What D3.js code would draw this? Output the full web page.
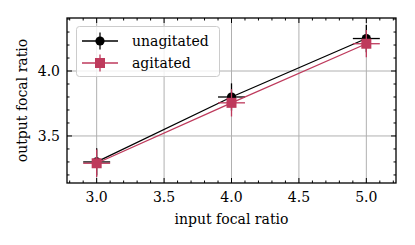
<!DOCTYPE html>
<html>
<head>
<meta charset="utf-8">
<script src="https://cdn.jsdelivr.net/npm/d3@7"></script>
<style>
  body { margin: 0; background: #fff; }
  svg text { font-family: "DejaVu Serif", serif; fill: #000; }
</style>
</head>
<body>
<svg id="chart" width="415" height="245"></svg>
<script>
"use strict";

// values
const inputRatio = [3.0, 4.0, 5.0];
const unagitated = [3.30, 3.80, 4.25];
const agitated = [3.29, 3.755, 4.21];
const xErr = [0.1, 0.1, 0.1];
const unagitatedErr = [0.105, 0.105, 0.105];
const agitatedErr = [0.105, 0.105, 0.105];
const xTicks = [3.0, 3.5, 4.0, 4.5, 5.0];
const yTicks = [3.5, 4.0];
const seriesNames = ['unagitated', 'agitated'];

(function () {
  const red = '#be3a5c';
  const fontSize = 14;
  let svg = d3.select('#chart');

  let left = 67, right = 396, top = 18, bottom = 183;

  let xScale = d3.scaleLinear().domain([2.78, 5.22]).range([left, right]);
  let yScale = d3.scaleLinear().domain([3.138, 4.408]).range([bottom, top]);

  // grid
  let grid = svg.append('g').attr('stroke', '#b0b0b0').attr('stroke-width', 1);
  grid.selectAll('line.gx').data(xTicks).enter().append('line')
    .attr('x1', d => xScale(d)).attr('x2', d => xScale(d))
    .attr('y1', top).attr('y2', bottom);
  grid.selectAll('line.gy').data(yTicks).enter().append('line')
    .attr('y1', d => yScale(d)).attr('y2', d => yScale(d))
    .attr('x1', left).attr('x2', right);

  // series
  let series = [
    { name: seriesNames[0], values: unagitated, err: unagitatedErr, color: '#000', marker: 'circle' },
    { name: seriesNames[1], values: agitated, err: agitatedErr, color: red, marker: 'square' }
  ];

  let line = d3.line()
    .x(d => xScale(d.x))
    .y(d => yScale(d.y));

  series.forEach(function (s) {
    let pts = inputRatio.map((x, i) => ({ x: x, y: s.values[i], xe: xErr[i], ye: s.err[i] }));
    let g = svg.append('g');
    g.append('path')
      .datum(pts)
      .attr('d', line)
      .attr('fill', 'none')
      .attr('stroke', s.color)
      .attr('stroke-width', 1.3);
    g.selectAll('line.xe').data(pts).enter().append('line')
      .attr('x1', d => xScale(d.x - d.xe)).attr('x2', d => xScale(d.x + d.xe))
      .attr('y1', d => yScale(d.y)).attr('y2', d => yScale(d.y))
      .attr('stroke', s.color).attr('stroke-width', 1.3);
    g.selectAll('line.ye').data(pts).enter().append('line')
      .attr('x1', d => xScale(d.x)).attr('x2', d => xScale(d.x))
      .attr('y1', d => yScale(d.y - d.ye)).attr('y2', d => yScale(d.y + d.ye))
      .attr('stroke', s.color).attr('stroke-width', 1.3);
    if (s.marker === 'circle') {
      g.selectAll('circle').data(pts).enter().append('circle')
        .attr('cx', d => xScale(d.x)).attr('cy', d => yScale(d.y))
        .attr('r', 4.6).attr('fill', s.color);
    } else {
      g.selectAll('rect').data(pts).enter().append('rect')
        .attr('x', d => xScale(d.x) - 5).attr('y', d => yScale(d.y) - 5)
        .attr('width', 10).attr('height', 10).attr('fill', s.color);
    }
  });

  // ticks, inward on all sides
  let ticks = svg.append('g').attr('stroke', '#000').attr('stroke-width', 1);
  let xMinor = d3.range(28, 53).map(d => d / 10);
  let yMinor = d3.range(32, 45).map(d => d / 10);
  function isMajor(v) { return Math.abs(v * 2 - Math.round(v * 2)) < 1e-6; }

  xMinor.forEach(function (v) {
    let len = isMajor(v) ? 5 : 2.5;
    let x = xScale(v);
    ticks.append('line').attr('x1', x).attr('x2', x).attr('y1', bottom).attr('y2', bottom - len);
    ticks.append('line').attr('x1', x).attr('x2', x).attr('y1', top).attr('y2', top + len);
  });
  yMinor.forEach(function (v) {
    let len = isMajor(v) ? 5 : 2.5;
    let y = yScale(v);
    ticks.append('line').attr('y1', y).attr('y2', y).attr('x1', left).attr('x2', left + len);
    ticks.append('line').attr('y1', y).attr('y2', y).attr('x1', right).attr('x2', right - len);
  });

  // frame
  svg.append('rect')
    .attr('x', left).attr('y', top)
    .attr('width', right - left).attr('height', bottom - top)
    .attr('fill', 'none').attr('stroke', '#000').attr('stroke-width', 1.3);

  // tick labels
  svg.selectAll('text.xt').data(xTicks).enter().append('text')
    .attr('x', d => xScale(d)).attr('y', 202)
    .attr('text-anchor', 'middle').attr('font-size', fontSize)
    .text(d => d.toFixed(1));
  svg.selectAll('text.yt').data(yTicks).enter().append('text')
    .attr('x', 60).attr('y', d => yScale(d) + 5)
    .attr('text-anchor', 'end').attr('font-size', fontSize)
    .text(d => d.toFixed(1));

  // axis labels
  svg.append('text')
    .attr('x', (left + right) / 2).attr('y', 224)
    .attr('text-anchor', 'middle').attr('font-size', fontSize)
    .text('input focal ratio');
  svg.append('text')
    .attr('transform', 'translate(27,' + (top + bottom) / 2 + ') rotate(-90)')
    .attr('text-anchor', 'middle').attr('font-size', fontSize)
    .text('output focal ratio');

  // legend
  let legend = svg.append('g');
  legend.append('rect')
    .attr('x', 76.5).attr('y', 26.5).attr('width', 143).attr('height', 50)
    .attr('rx', 3)
    .attr('fill', 'rgba(255,255,255,0.8)').attr('stroke', '#cccccc').attr('stroke-width', 1);

  series.forEach(function (s, i) {
    let cy = 41 + i * 22;
    let g = legend.append('g');
    g.append('line').attr('x1', 82).attr('x2', 118).attr('y1', cy).attr('y2', cy)
      .attr('stroke', s.color).attr('stroke-width', 1.3);
    g.append('line').attr('x1', 100).attr('x2', 100).attr('y1', cy - 8.5).attr('y2', cy + 8.5)
      .attr('stroke', s.color).attr('stroke-width', 1.3);
    if (s.marker === 'circle') {
      g.append('circle').attr('cx', 100).attr('cy', cy).attr('r', 4.6).attr('fill', s.color);
    } else {
      g.append('rect').attr('x', 95).attr('y', cy - 5).attr('width', 10).attr('height', 10).attr('fill', s.color);
    }
    g.append('text').attr('x', 132).attr('y', cy + 5).attr('font-size', fontSize).text(s.name);
  });
})();
</script>
</body>
</html>
